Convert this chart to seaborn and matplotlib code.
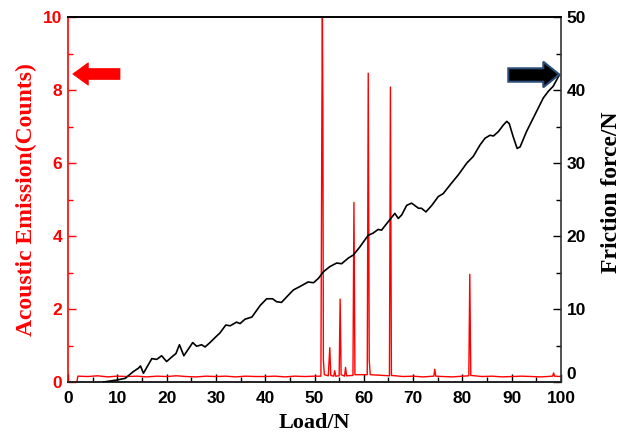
import matplotlib
matplotlib.use("Agg")
import matplotlib.pyplot as plt
from matplotlib.patches import Polygon
from matplotlib.ticker import MultipleLocator
import seaborn as sns
import pandas as pd

# ---------------- data ----------------
ae_load = [0.0, 1.8, 2.0,
           4, 6, 8, 10, 12, 14, 16, 18, 20, 22, 24, 26, 28, 30, 32, 34, 36, 38, 40, 42, 44, 46, 48, 50,
           51.3, 51.5, 51.6, 51.7, 51.8, 52.0,
           52.8, 53.1, 53.3,
           53.9, 54.1, 54.3,
           55.0, 55.2, 55.4,
           56.1, 56.3, 56.5,
           57.8, 58.0, 58.2,
           60.7, 60.9, 61.1, 61.3,
           65.2, 65.4, 65.6,
           68, 70, 72,
           74.2, 74.4, 74.6,
           76, 78, 80,
           81.3, 81.5, 81.7,
           84, 86, 88, 90, 92, 94, 96,
           98.3, 98.5, 98.7, 100]
ae_count = [0.0, 0.0, 0.16,
            0.15, 0.17, 0.14, 0.16, 0.15, 0.16, 0.14, 0.16, 0.15, 0.17, 0.15, 0.14, 0.16, 0.15, 0.16, 0.14, 0.16, 0.15, 0.15, 0.16, 0.14, 0.16, 0.15, 0.16,
            0.16, 7.5, 10.0, 7.5, 0.6, 0.2,
            0.17, 0.94, 0.18,
            0.16, 0.31, 0.16,
            0.17, 2.27, 0.2,
            0.16, 0.4, 0.17,
            0.18, 4.92, 0.2,
            0.2, 8.46, 0.6, 0.2,
            0.17, 8.08, 0.18,
            0.15, 0.16, 0.14,
            0.16, 0.35, 0.16,
            0.15, 0.14, 0.16,
            0.17, 2.95, 0.18,
            0.15, 0.16, 0.14, 0.15, 0.16, 0.15, 0.14,
            0.16, 0.25, 0.16, 0.15]

fr_load = [7.2, 9.9, 11.6, 13.2, 14.3, 14.7, 15.3, 17.0, 18.0, 19.0, 20.0, 21.0, 21.9, 22.6, 23.5,
           25.3, 26.1, 27.1, 27.8, 28.8, 30.0, 30.8, 32.0, 32.9, 34.2, 34.9, 35.9, 37.3, 39.0, 40.3,
           41.5, 42.3, 43.3, 44.7, 45.7, 47.1, 48.7, 49.8, 50.8, 51.8, 53.1, 54.5, 55.5, 56.9, 57.9,
           59.2, 60.9, 61.9, 62.9, 63.6, 65.0, 66.3, 67.0, 67.7, 68.7, 69.7, 71.1, 71.7, 72.6, 73.8,
           75.1, 76.1, 77.5, 79.2, 80.9, 82.2, 83.6, 84.6, 85.6, 86.3, 87.3, 88.3, 89.0, 89.5, 90.3,
           91.1, 91.7, 93.0, 94.7, 96.4, 97.4, 98.4, 99.7]
fr_force = [0.0, 0.27, 0.5, 1.4, 1.9, 2.2, 1.2, 3.2, 3.1, 3.6, 2.8, 3.4, 3.9, 5.1, 3.6,
            5.4, 4.9, 5.1, 4.8, 5.4, 6.2, 6.7, 7.8, 7.7, 8.2, 8.0, 8.6, 8.9, 10.5, 11.4,
            11.4, 11.0, 10.9, 11.9, 12.6, 13.1, 13.7, 13.6, 14.2, 15.1, 15.8, 16.3, 16.2, 17.0, 17.4,
            18.5, 20.1, 20.4, 20.9, 20.8, 22.0, 23.1, 22.4, 22.9, 24.2, 24.5, 23.8, 23.8, 23.3, 24.2,
            25.4, 25.8, 27.0, 28.4, 30.0, 30.9, 32.5, 33.4, 33.8, 33.7, 34.3, 35.2, 35.7, 35.4, 33.6,
            32.0, 32.2, 34.3, 36.6, 38.9, 39.8, 40.5, 42.1]

x_ticks = [0, 10, 20, 30, 40, 50, 60, 70, 80, 90, 100]
ae_ticks = [0, 2, 4, 6, 8, 10]
fr_ticks = [0, 10, 20, 30, 40, 50]

ae_df = pd.DataFrame({"load": ae_load, "count": ae_count})
fr_df = pd.DataFrame({"load": fr_load, "force": fr_force})

# ---------------- style ----------------
sns.set_style("white")
plt.rcParams["font.family"] = ["Liberation Sans", "DejaVu Sans"]

RED = "#ff0000"
SERIF = ["Liberation Serif", "DejaVu Serif"]

fig = plt.figure(figsize=(6.29, 4.37), dpi=100)
ax = fig.add_axes([68 / 629, 55 / 437, 493 / 629, 365 / 437])
ax2 = ax.twinx()

sns.lineplot(data=ae_df, x="load", y="count", ax=ax, color=RED, lw=1.0,
             estimator=None, sort=False, zorder=2)
sns.lineplot(data=fr_df, x="load", y="force", ax=ax2, color="black", lw=1.2,
             estimator=None, sort=False, zorder=3)

ax.set_xlim(0, 100)
ax.set_ylim(0, 10)
ax2.set_ylim(0, 50)

ax.set_xticks(x_ticks)
ax.set_xticklabels([str(v) for v in x_ticks])
ax.set_yticks(ae_ticks)
ax.set_yticklabels([str(v) for v in ae_ticks])
ax2.set_yticks(fr_ticks)
ax2.set_yticklabels([str(v) for v in fr_ticks])
ax.xaxis.set_minor_locator(MultipleLocator(5))
ax.yaxis.set_minor_locator(MultipleLocator(1))
ax2.yaxis.set_minor_locator(MultipleLocator(5))

# ticks
ax.tick_params(axis="x", which="both", direction="in", bottom=True, top=False,
               colors="black", labelsize=12.5, pad=6.5)
ax.tick_params(axis="x", which="major", length=6, width=1)
ax.tick_params(axis="x", which="minor", length=3.5, width=1)
ax.tick_params(axis="y", which="both", direction="in", left=True, right=False,
               colors=RED, labelsize=12.5, pad=4)
ax.tick_params(axis="y", which="major", length=6, width=1)
ax.tick_params(axis="y", which="minor", length=3.5, width=1)
ax2.tick_params(axis="y", which="both", direction="in", right=True, left=False,
                colors="black", labelsize=12.5, pad=4)
ax2.tick_params(axis="y", which="major", length=6, width=1)
ax2.tick_params(axis="y", which="minor", length=3.5, width=1)

for lab in ax.get_xticklabels() + ax.get_yticklabels() + ax2.get_yticklabels():
    lab.set_fontweight("bold")
# lift the right-hand "0" slightly so it clears the "100" below it
ax2.get_yticklabels()[0].set_va("bottom")

# spines
for a in (ax, ax2):
    for s in a.spines.values():
        s.set_linewidth(1.2)
        s.set_visible(True)
ax.spines["left"].set_color(RED)
ax2.spines["left"].set_visible(False)
ax.spines["right"].set_visible(False)
ax2.spines["right"].set_color("#333333")
ax.spines["top"].set_color("black")
ax2.spines["top"].set_color("black")
ax.spines["bottom"].set_color("#222222")
ax2.spines["bottom"].set_color("#222222")

# labels
ax.set_xlabel("Load/N", fontsize=16, fontweight="bold", family=SERIF, color="black")
ax.set_ylabel("Acoustic Emission(Counts)", fontsize=17, fontweight="bold", family=SERIF, color=RED)
ax2.set_ylabel("Friction force/N", fontsize=17, fontweight="bold", family=SERIF, color="black")
ax.xaxis.set_label_coords(0.5, -0.085)
ax.yaxis.set_label_coords(-0.063, 0.5)
ax2.yaxis.set_label_coords(1.081, 0.52)


# arrows (pixel coordinates converted to axes fraction)
def px2ax(pts):
    return [((px - 68) / 493, (382 - py) / 365) for px, py in pts]

red_arrow = [(72.7, 74), (88.3, 62.7), (88.3, 68.5), (120, 68.5), (120, 79.5),
             (88.3, 79.5), (88.3, 85.3)]
ax2.add_patch(Polygon(px2ax(red_arrow), closed=True, transform=ax2.transAxes,
                      facecolor=RED, edgecolor=RED, lw=0.5, zorder=5))

blk_arrow = [(559.3, 74.5), (543.3, 61.7), (543.3, 68.3), (508.3, 68.3), (508.3, 81.7),
             (543.3, 81.7), (543.3, 87.3)]
ax2.add_patch(Polygon(px2ax(blk_arrow), closed=True, transform=ax2.transAxes,
                      facecolor="black", edgecolor="#2b4d78", lw=1.5, zorder=5))

fig.savefig("out.png", dpi=100)
